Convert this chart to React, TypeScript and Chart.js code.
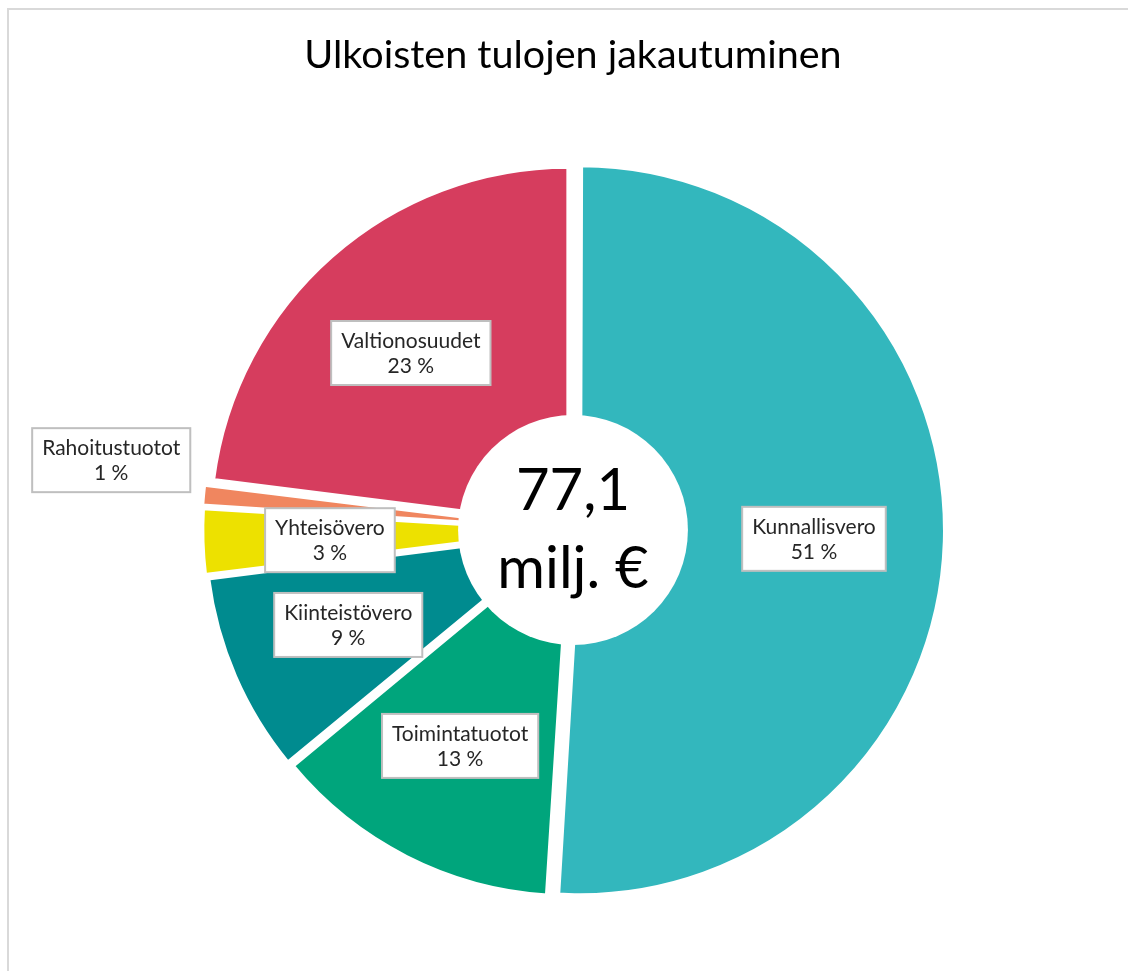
import React, { useEffect, useRef } from "react";
import { Chart, registerables } from "chart.js";

Chart.register(...registerables);

const titleText = "Ulkoisten tulojen jakautuminen";
const categories = [
  "Kunnallisvero",
  "Toimintatuotot",
  "Kiinteistövero",
  "Yhteisövero",
  "Rahoitustuotot",
  "Valtionosuudet",
];
const shares = [51, 13, 9, 3, 1, 23];
const percentLabels = ["51 %", "13 %", "9 %", "3 %", "1 %", "23 %"];
const sliceColors = ["#33B7BD", "#00A57C", "#008B8F", "#EDE100", "#F0865F", "#D63D5E"];
const centerLines = ["77,1", "milj. €"];

// label placement (fraction of radius along slice mid-angle, extra angle in degrees)
const labelRadius = [0.654, 0.661, 0.662, 0.66, 1.285, 0.651];
const labelAngleShift = [0.3, 0.6, 0.5, -0.6, 3.2, -1.1];

const overlayPlugin = {
  id: "overlayPlugin",
  afterDatasetsDraw(chart: any) {
    const meta = chart.getDatasetMeta(0);
    const arcs = meta.data as any[];
    if (!arcs.length) return;
    const ctx = chart.ctx as CanvasRenderingContext2D;
    const cx = arcs[0].x;
    const cy = arcs[0].y;
    const R = arcs[0].outerRadius;
    ctx.save();
    // center hole
    ctx.beginPath();
    ctx.arc(cx, cy, R * 0.321, 0, Math.PI * 2);
    ctx.fillStyle = "#ffffff";
    ctx.fill();
    // center text
    ctx.fillStyle = "#000000";
    ctx.font = "58px Lato";
    ctx.textAlign = "center";
    ctx.textBaseline = "alphabetic";
    ctx.fillText(centerLines[0], cx, cy - 20);
    ctx.fillText(centerLines[1], cx, cy + 58);
    // data labels
    ctx.font = "21px Lato";
    ctx.textBaseline = "middle";
    arcs.forEach((arc: any, i: number) => {
      const mid = (arc.startAngle + arc.endAngle) / 2 + (labelAngleShift[i] * Math.PI) / 180;
      const off = (arc.options.offset || 0) / 4;
      const d = R * labelRadius[i] + off;
      const lx = cx + Math.cos(mid) * d;
      const ly = cy + Math.sin(mid) * d;
      const l1 = categories[i];
      const l2 = percentLabels[i];
      const w = Math.max(ctx.measureText(l1).width, ctx.measureText(l2).width) + 20;
      const h = 64;
      ctx.fillStyle = "#ffffff";
      ctx.fillRect(lx - w / 2, ly - h / 2, w, h);
      ctx.strokeStyle = "#BFBFBF";
      ctx.lineWidth = 2;
      ctx.strokeRect(lx - w / 2, ly - h / 2, w, h);
      ctx.fillStyle = "#262626";
      ctx.fillText(l1, lx, ly - 12);
      ctx.fillText(l2, lx, ly + 13);
    });
    ctx.restore();
  },
};

export default function App() {
  const canvasRef = useRef<HTMLCanvasElement | null>(null);

  useEffect(() => {
    if (!canvasRef.current) return;
    const chart = new Chart(canvasRef.current, {
      type: "pie",
      data: {
        labels: categories,
        datasets: [
          {
            data: shares,
            backgroundColor: sliceColors,
            hoverBackgroundColor: sliceColors,
            borderColor: "#ffffff",
            hoverBorderColor: "#ffffff",
            borderWidth: 4,
            hoverBorderWidth: 4,
            offset: 28,
            hoverOffset: 28,
          },
        ],
      },
      options: {
        responsive: false,
        animation: false,
        events: [],
        layout: { padding: { left: 100, right: 82, top: 0, bottom: 67 } },
        plugins: {
          legend: { display: false },
          tooltip: { enabled: false },
          title: {
            display: true,
            text: titleText,
            color: "#000000",
            font: { family: "Lato", size: 39.5, weight: "normal", lineHeight: 1.2 },
            padding: { top: 31.3, bottom: 77.3 },
          },
        },
      },
      plugins: [overlayPlugin],
    });
    return () => chart.destroy();
  }, []);

  return (
    <>
      <div
        style={{
          position: "fixed",
          left: 7,
          top: 8,
          width: 1300,
          height: 1100,
          borderLeft: "2px solid #d9d9d9",
          borderTop: "2px solid #d9d9d9",
          boxSizing: "border-box",
          background: "#ffffff",
        }}
      />
      <canvas
        ref={canvasRef}
        width={1128}
        height={971}
        style={{ position: "fixed", left: 0, top: 0, width: 1128, height: 971 }}
      />
    </>
  );
}
